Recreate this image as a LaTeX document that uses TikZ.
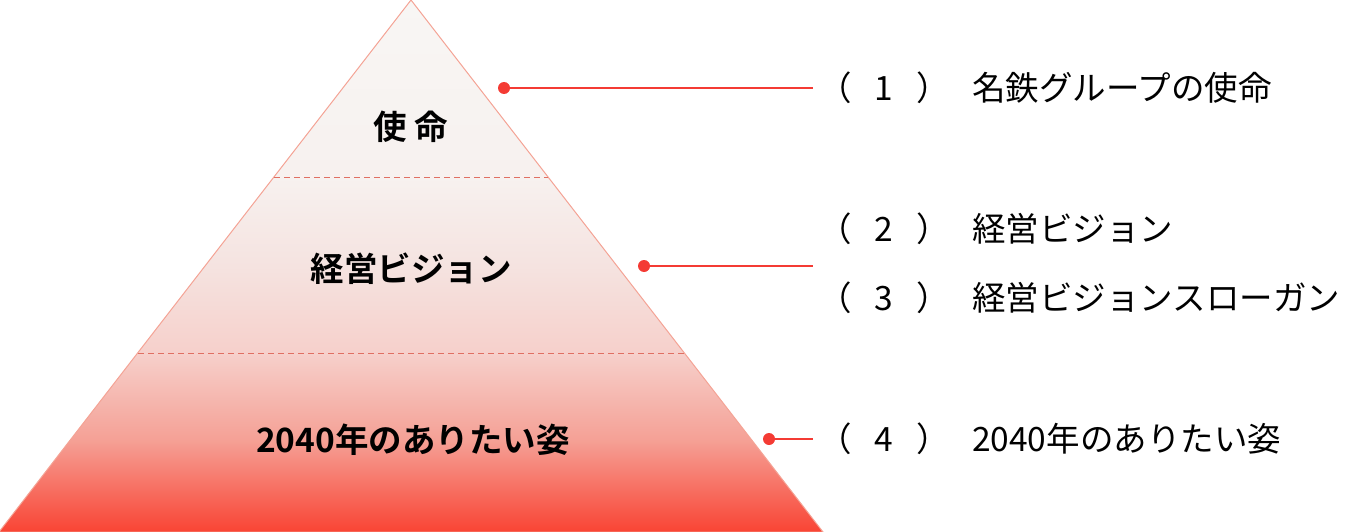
\documentclass[tikz,border=0pt]{standalone}
\usepackage{fontspec}
\setmainfont{Noto Sans CJK JP}[BoldFont={Noto Sans CJK JP Bold}]
\usepackage{tikz}
\definecolor{pyrA}{HTML}{F94434}
\definecolor{pyrB}{HTML}{F5A095}
\definecolor{pyrC}{HTML}{F6D0CB}
\definecolor{pyrD}{HTML}{F5E3E0}
\definecolor{pyrE}{HTML}{F7F1EF}
\definecolor{pyrF}{HTML}{F8F6F4}
\definecolor{edgered}{HTML}{F4A395}
\definecolor{dashred}{HTML}{E06F62}
\definecolor{pinred}{HTML}{F43B34}
\pgfdeclareverticalshading{pyr}{100bp}{color(0bp)=(pyrA); color(25bp)=(pyrA); color(33.6bp)=(pyrB); color(41.8bp)=(pyrC); color(50bp)=(pyrD); color(58.3bp)=(pyrE); color(75bp)=(pyrF); color(100bp)=(pyrF)}
\tikzstyle{tier} = [font={\fontsize{33.5}{40}\selectfont\bfseries}, inner sep=0pt]
\tikzstyle{num} = [font={\fontsize{33.5}{40}\selectfont}, inner sep=0pt]
\tikzstyle{item} = [font={\fontsize{33.5}{40}\selectfont}, inner sep=0pt, anchor=west]
\tikzstyle{pin} = [circle, fill=pinred, inner sep=0pt, minimum size=12pt]
\tikzstyle{lead} = [draw=pinred, line width=2.2pt]
\tikzstyle{split} = [draw=dashred, line width=1pt, dash pattern=on 6pt off 4pt]

\begin{document}
\begin{tikzpicture}[x=1pt,y=-1pt]
        \useasboundingbox (0,0) rectangle (1372,532);
        \coordinate (top) at (411,0);
        \coordinate (bl) at (-1,532);
        \coordinate (br) at (823,532);
        \shade[shading=pyr,draw=edgered,line width=1pt] (top)--(br)--(bl)--cycle;
        \coordinate (s1l) at (274,177);
        \coordinate (s1r) at (548,177);
        \coordinate (s2l) at (138,353);
        \coordinate (s2r) at (684,353);
        \draw[split](s1l)--(s1r);
        \draw[split](s2l)--(s2r);
        \node[tier](mission) at (411,127){使 命};
        \node[tier](vision) at (411,269){経営ビジョン};
        \node[tier](future) at (413,440){2040年のありたい姿};
        \node[pin](p1) at (504,88){};
        \node[pin](p2) at (644,266){};
        \node[pin](p3) at (769,439){};
        \coordinate (e1) at (813,88);
        \coordinate (e2) at (813,266);
        \coordinate (e3) at (813,439);
        \draw[lead](p1.center)--(e1);
        \draw[lead](p2.center)--(e2);
        \draw[lead](p3.center)--(e3);
        \node[num](n1) at (884,88){（\hspace{0.68em}1\hspace{0.68em}）};
        \node[num](n2) at (884,229){（\hspace{0.68em}2\hspace{0.68em}）};
        \node[num](n3) at (884,298){（\hspace{0.68em}3\hspace{0.68em}）};
        \node[num](n4) at (884,439){（\hspace{0.68em}4\hspace{0.68em}）};
        \node[item](t1) at (972,88){名鉄グループの使命};
        \node[item](t2) at (972,229){経営ビジョン};
        \node[item](t3) at (972,298){経営ビジョンスローガン};
        \node[item](t4) at (972,439){2040年のありたい姿};
      \end{tikzpicture}
\end{document}
